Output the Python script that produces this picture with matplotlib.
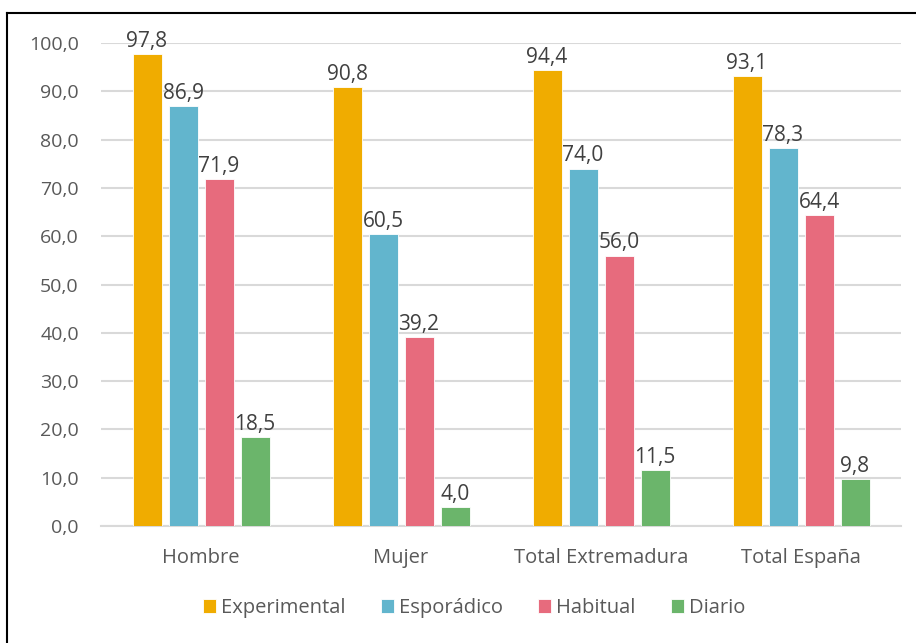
#!/usr/bin/env python3
'''
Bar chart: consumption frequency by group (Excel-like style)
'''

import numpy as np
import matplotlib.pyplot as plt
from matplotlib.lines import Line2D

categories = ['Hombre', 'Mujer', 'Total Extremadura', 'Total España']
series = ['Experimental', 'Esporádico', 'Habitual', 'Diario']
experimental = [97.8, 90.8, 94.4, 93.1]
esporadico = [86.9, 60.5, 74.0, 78.3]
habitual = [71.9, 39.2, 56.0, 64.4]
diario = [18.5, 4.0, 11.5, 9.8]
yticks = [0, 10, 20, 30, 40, 50, 60, 70, 80, 90, 100]

colors = ['#F0AC00', '#62B5CD', '#E76B7D', '#6BB56B']
text_col = '#595959'
label_col = '#404040'

plt.rcParams['font.family'] = ['Open Sans', 'DejaVu Sans']


def fmt(v):
    return f'{v:.1f}'.replace('.', ',')


def main():
    fig = plt.figure(figsize=(9.16, 6.43), dpi=100)
    ax = fig.add_axes([101 / 916, 1 - 526 / 643, 800 / 916, 483 / 643])

    x = np.arange(len(categories))
    width = 0.145
    pitch = 0.18
    data = [experimental, esporadico, habitual, diario]
    for i, (name, vals) in enumerate(zip(series, data)):
        pos = x + (i - 1.5) * pitch
        ax.bar(pos, vals, width, color=colors[i], label=name,
               edgecolor='white', linewidth=0.6, zorder=3)
        for p, v in zip(pos, vals):
            ax.annotate(fmt(v), (p, v), xytext=(0, 1.5),
                        textcoords='offset points', ha='center',
                        va='bottom', fontsize=15, color=label_col,
                        zorder=4)

    ax.set_xlim(-0.5, len(categories) - 0.5)
    ax.set_ylim(0, 100)
    ax.set_yticks(yticks)
    ax.set_yticklabels([fmt(t) for t in yticks])
    ax.set_xticks(x)
    ax.set_xticklabels(categories)
    ax.tick_params(axis='both', length=0, colors=text_col)
    ax.tick_params(axis='y', pad=16, labelsize=14)
    ax.tick_params(axis='x', pad=16, labelsize=14.5)
    ax.yaxis.grid(True, color='#D9D9D9', linewidth=1.5, zorder=0)
    ax.set_axisbelow(True)
    for s in ['top', 'right', 'left']:
        ax.spines[s].set_visible(False)
    ax.spines['bottom'].set_color('#D9D9D9')
    ax.spines['bottom'].set_linewidth(1.5)

    leg = fig.legend(loc='center', bbox_to_anchor=(474 / 916, 1 - 608 / 643),
                     ncol=4, frameon=False, fontsize=14.5,
                     handlelength=0.65, handleheight=0.65,
                     handletextpad=0.25, columnspacing=1.75)
    for t in leg.get_texts():
        t.set_color(text_col)

    # chart border (top and left visible in the crop)
    fig.add_artist(Line2D([7 / 916, 7 / 916], [0, 1 - 13 / 643],
                          color='black', linewidth=1.5,
                          transform=fig.transFigure))
    fig.add_artist(Line2D([7 / 916, 1], [1 - 13 / 643, 1 - 13 / 643],
                          color='black', linewidth=1.5,
                          transform=fig.transFigure))

    fig.savefig('out.png', dpi=100)


if __name__ == '__main__':
    main()
